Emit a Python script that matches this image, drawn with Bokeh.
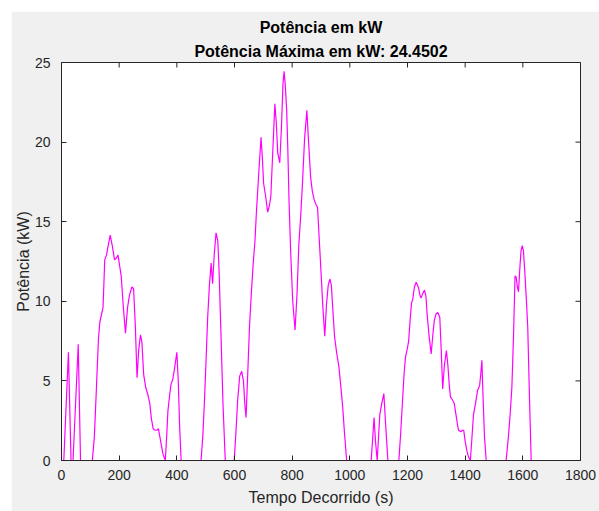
from bokeh.plotting import figure
from bokeh.models import Title, FixedTicker, Range1d, Spacer
from bokeh.layouts import column, row
from bokeh.embed import file_html
from bokeh.resources import INLINE

# ---- data ----
tempo = [0, 8, 24, 33, 40, 58, 66, 107, 114, 121, 128, 133, 144, 150, 156, 162, 169, 176, 184, 190,
         196, 201, 207, 215, 222, 229, 236, 244, 250, 256, 262, 268, 274, 279, 285, 292, 300, 306,
         312, 318, 325, 331, 336, 341, 346, 352, 360, 365, 369, 375, 380, 386, 393, 400, 405, 410,
         415, 484, 490, 496, 502, 507, 513, 519, 524, 530, 536, 542, 546, 553, 560, 568, 599, 605,
         611, 618, 625, 631, 636, 640, 646, 652, 659, 665, 671, 676, 684, 692, 696, 701, 708, 715,
         721, 726, 733, 740, 745, 750, 757, 763, 768, 772, 776, 781, 785, 789, 795, 802, 810, 817,
         823, 830, 836, 843, 851, 856, 864, 870, 876, 882, 888, 893, 899, 906, 913, 919, 925, 931,
         936, 941, 947, 954, 962, 968, 975, 982, 989, 1074, 1080, 1084, 1089, 1095, 1100, 1104,
         1111, 1118, 1125, 1132, 1170, 1176, 1182, 1188, 1193, 1199, 1204, 1209, 1214, 1218, 1224,
         1230, 1235, 1239, 1243, 1247, 1253, 1259, 1264, 1268, 1275, 1282, 1288, 1293, 1299, 1305,
         1312, 1317, 1322, 1328, 1335, 1340, 1345, 1349, 1356, 1362, 1368, 1373, 1377, 1385, 1390,
         1395, 1400, 1406, 1412, 1418, 1423, 1429, 1436, 1443, 1450, 1454, 1458, 1462, 1467, 1473,
         1542, 1550, 1556, 1562, 1568, 1573, 1577, 1581, 1585, 1590, 1594, 1598, 1602, 1607, 1612,
         1617, 1623, 1629, 1642]
potencia = [0, 0, 6.8, 0, 0, 7.3, 0, 0, 1.5, 4.5, 7.6, 8.7, 9.6, 12.6, 12.9, 13.5, 14.15, 13.5, 12.6, 12.7,
            12.9, 12.3, 11.6, 9.5, 8.0, 9.6, 10.4, 10.9, 10.8, 8.5, 5.2, 7.0, 7.9, 7.4, 5.4, 4.6, 4.1, 3.6,
            2.6, 2.0, 1.9, 1.9, 2.0, 1.5, 1.0, 0.4, 0, 1.6, 3.1, 4.1, 4.8, 5.1, 5.9, 6.8, 5.0, 2.0,
            0, 0, 1.5, 3.8, 6.6, 9.0, 11.0, 12.4, 11.1, 13.0, 14.3, 13.8, 12.2, 8.0, 3.6, 0, 0, 1.8,
            3.8, 5.3, 5.6, 5.0, 3.5, 2.7, 5.5, 8.4, 10.7, 12.4, 13.8, 15.6, 18.0, 20.3, 19.2, 17.4, 16.6, 15.6,
            16.0, 16.6, 19.5, 22.4, 21.2, 19.3, 18.7, 21.0, 23.6, 24.45, 23.6, 22.0, 19.5, 16.4, 13.0, 10.0, 8.2, 10.5,
            13.5, 15.5, 17.5, 20.2, 22.0, 20.3, 17.8, 16.9, 16.4, 16.1, 15.9, 14.2, 12.2, 9.8, 7.8, 9.8, 11.0, 11.4,
            11.0, 9.5, 7.8, 6.8, 5.9, 4.8, 3.4, 1.6, 0, 0, 1.6, 2.7, 1.2, 0, 1.6, 2.9,
            3.6, 4.2, 2.0, 0, 0, 1.6, 3.5, 5.4, 6.5, 7.0, 7.5, 8.8, 9.9, 10.1, 10.9,
            11.2, 11.0, 10.8, 10.4, 10.2, 10.5, 10.7, 10.3, 9.2, 7.8, 6.7, 7.9, 8.8, 9.2, 9.3,
            9.0, 6.9, 4.5, 6.0, 6.9, 6.0, 4.7, 4.0, 3.8, 3.6, 2.9, 2.3, 1.9, 1.8, 1.9,
            1.9, 1.2, 0.6, 0.2, 0, 1.3, 2.9, 3.6, 4.4, 4.7, 5.4, 6.3, 4.0, 1.5, 0,
            0, 1.5, 2.9, 4.6, 8.0, 11.6, 11.5, 10.9, 10.6, 12.2, 13.2, 13.5, 13.2, 11.8, 10.2,
            8.4, 4.0, 0, 0]
x_ticks = [0, 200, 400, 600, 800, 1000, 1200, 1400, 1600, 1800]
y_ticks = [0, 5, 10, 15, 20, 25]
titulo_1 = "Potência em kW"
titulo_2 = "Potência Máxima em kW: 24.4502"
rotulo_x = "Tempo Decorrido (s)"
rotulo_y = "Potência (kW)"

FONT = "Liberation Sans"
AXC = "#262626"
X_MIN, X_MAX = 0, 1800
Y_MIN, Y_MAX = 0, 25

p = figure(width=588, height=500, output_backend="svg", toolbar_location=None,
           x_range=Range1d(X_MIN, X_MAX), y_range=Range1d(Y_MIN, Y_MAX),
           min_border_left=50, min_border_right=19, min_border_top=51, min_border_bottom=51,
           background_fill_color="white", border_fill_color="#f0f0f0",
           outline_line_color=AXC)
p.title.visible = False
p.grid.visible = False

p.line(tempo, potencia, line_color="#ff00ff", line_width=1.2)

# inward ticks on the top and right edges (box on); half of each dash is clipped by the frame
p.scatter(x_ticks, [Y_MAX] * len(x_ticks), marker="dash", angle=1.5708, size=10,
          line_color=AXC, line_width=1)
p.scatter([X_MAX] * len(y_ticks), y_ticks, marker="dash", size=10,
          line_color=AXC, line_width=1)

for ax in (p.xaxis[0], p.yaxis[0]):
    ax.major_tick_in = 5
    ax.major_tick_out = 0
    ax.minor_tick_in = 0
    ax.minor_tick_out = 0
    ax.axis_line_color = AXC
    ax.major_tick_line_color = AXC
    ax.major_label_text_color = AXC
    ax.major_label_text_font = FONT
    ax.major_label_text_font_size = "14px"
    ax.axis_label_text_font = FONT
    ax.axis_label_text_font_size = "16px"
    ax.axis_label_text_font_style = "normal"
    ax.axis_label_text_color = AXC

p.xaxis[0].ticker = FixedTicker(ticks=x_ticks)
p.yaxis[0].ticker = FixedTicker(ticks=y_ticks)
p.xaxis[0].axis_label = rotulo_x
p.yaxis[0].axis_label = rotulo_y
p.xaxis[0].major_label_standoff = 9
p.xaxis[0].axis_label_standoff = 6
p.yaxis[0].major_label_standoff = 11
p.yaxis[0].axis_label_standoff = 0

p.add_layout(Title(text=titulo_2, align="center", text_font=FONT, text_font_size="16px",
                   text_font_style="bold", text_color="black", standoff=5), "above")
p.add_layout(Title(text=titulo_1, align="center", text_font=FONT, text_font_size="16px",
                   text_font_style="bold", text_color="black", standoff=5), "above")

layout = column(Spacer(height=11), row(Spacer(width=11), p))
open("out.html", "w").write(file_html(layout, INLINE))
